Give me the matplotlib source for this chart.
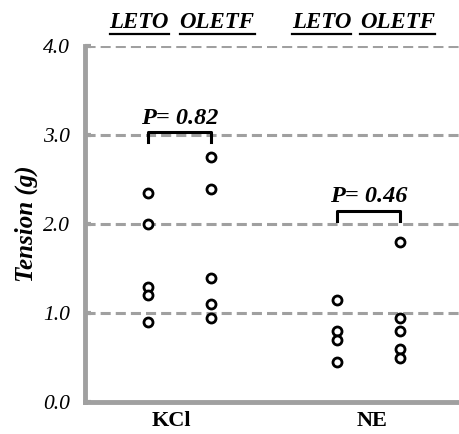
import numpy as np
import matplotlib.pyplot as plt

# data
groups = ["KCl", "NE"]
strains = ["LETO", "OLETF"]
kcl_leto = [2.35, 2.0, 1.3, 1.2, 0.9]
kcl_oletf = [2.75, 2.4, 1.4, 1.1, 0.95]
ne_leto = [1.15, 0.8, 0.7, 0.45]
ne_oletf = [1.8, 0.95, 0.8, 0.6, 0.5]
p_values = ["P= 0.82", "P= 0.46"]
yticks = [0.0, 1.0, 2.0, 3.0, 4.0]

xpos = [0, 1, 3, 4]
series = [kcl_leto, kcl_oletf, ne_leto, ne_oletf]

plt.rcParams['font.family'] = 'Liberation Serif'
fig = plt.figure(figsize=(4.59, 4.34), dpi=100)
ax = fig.add_axes([0.186, 0.073, 0.814, 0.821])

grey = '#a0a0a0'
for yv in yticks[1:]:
    ax.axhline(yv, color=grey, lw=2.2, ls=(0, (3.3, 1.65)), zorder=1)

for x, vals in zip(xpos, series):
    ax.plot([x] * len(vals), vals, 'o', ms=6.5, mfc='white', mec='black', mew=2, zorder=3)

# brackets with p values
brackets = [(0, 1, 3.03, 2.92), (3, 4, 2.15, 2.04)]
for (x0, x1, top, leg), txt in zip(brackets, p_values):
    ax.plot([x0, x0, x1, x1], [leg, top, top, leg], color='black', lw=2.2, zorder=4)
    ax.text((x0 + x1) / 2, top + 0.1, txt, ha='center', va='baseline',
            fontsize=17.5, fontweight='bold', fontstyle='italic')

ax.set_xlim(-0.992, 4.94)
ax.set_ylim(0, 4.0)
ax.set_yticks(yticks)
ax.set_yticklabels(["%.1f" % v for v in yticks], fontstyle='italic', fontsize=15.5)
ax.set_xticks([0.373, 3.56])
ax.set_xticklabels(groups, fontweight='bold', fontsize=16)
ax.tick_params(axis='x', length=0, pad=6)
ax.tick_params(axis='y', length=4, width=3, color=grey, pad=11, direction='in')

for s in ['top', 'right']:
    ax.spines[s].set_visible(False)
for s in ['left', 'bottom']:
    ax.spines[s].set_color(grey)
    ax.spines[s].set_linewidth(3.5)

ax.set_ylabel("Tension (g)", fontsize=18, fontweight='bold', fontstyle='italic', labelpad=4)

# strain headers above the axes
header_x = [-0.135, 1.10, 2.76, 3.97]
for x, name in zip(header_x, strains * 2):
    ax.text(x, 1.065, name, transform=ax.get_xaxis_transform(), ha='center', va='center',
            fontsize=16.5, fontweight='bold', fontstyle='italic')
fig.canvas.draw()
r = fig.canvas.get_renderer()
for t in ax.texts:
    if t.get_text() in strains:
        bb = t.get_window_extent(r)
        fig.add_artist(plt.Line2D([bb.x0 / fig.bbox.width, bb.x1 / fig.bbox.width],
                                  [(bb.y0 - 1) / fig.bbox.height] * 2, color='black', lw=1.6))

fig.savefig("out.png", dpi=100)
